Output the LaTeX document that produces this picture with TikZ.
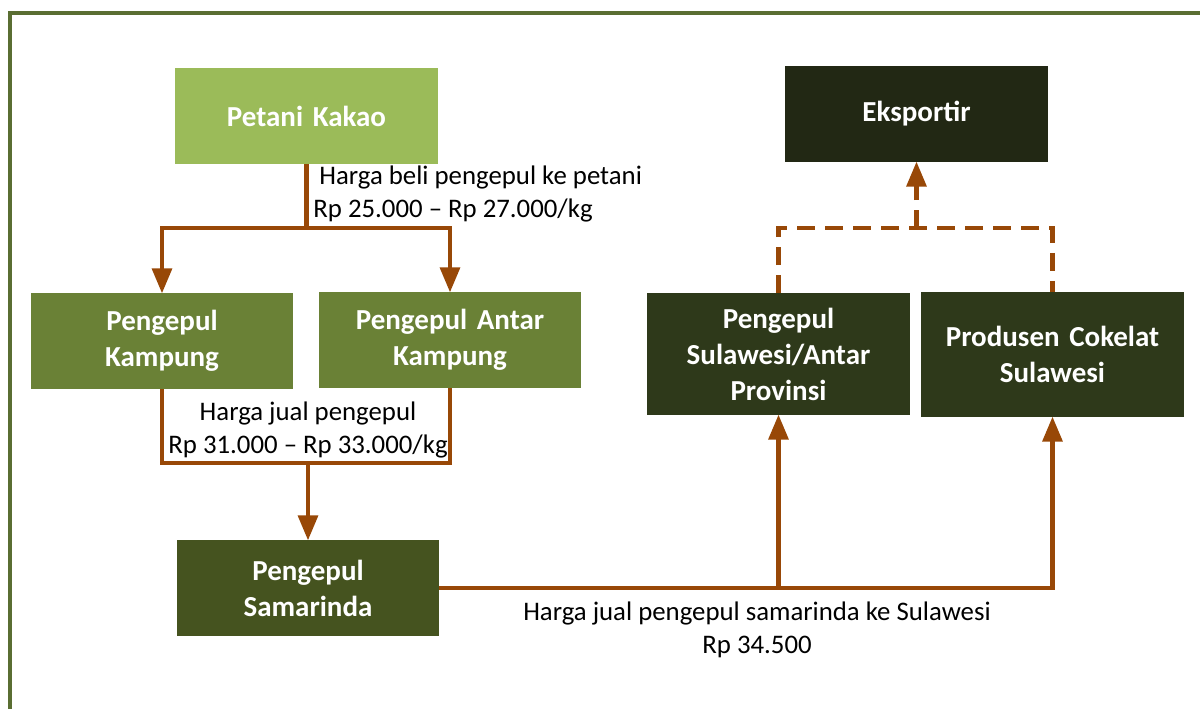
\documentclass[tikz,border=0pt]{standalone}
\usepackage{fontspec}
\setmainfont{Carlito}
\usepackage{xcolor}
\usepackage{tikz}
\usetikzlibrary{shapes,arrows}
\usetikzlibrary{positioning}
\definecolor{kakaogreen}{HTML}{9BBB59}
\definecolor{kampunggreen}{HTML}{6A8136}
\definecolor{samarindagreen}{HTML}{45531F}
\definecolor{sulawesigreen}{HTML}{2E391A}
\definecolor{eksportirgreen}{HTML}{222814}
\definecolor{arrowbrown}{HTML}{984807}
\definecolor{framegreen}{HTML}{5A6E32}
\tikzstyle{block} = [rectangle, text=white, font=\fontsize{16.5}{20.5}\selectfont\bfseries,
    text width=4.9cm, align=center, minimum width=5.26cm, minimum height=1.92cm,
    inner sep=0pt, outer sep=0pt]
\tikzstyle{price} = [font=\fontsize{15.25}{18.9}\selectfont, inner sep=0pt]
\tikzstyle{edge} = [draw, arrowbrown, line width=2.3pt]
\tikzstyle{line} = [edge, -triangle 45]
\tikzstyle{dashed edge} = [edge, dash pattern=on 0.36cm off 0.2cm]
\tikzstyle{dashed line} = [dashed edge, -triangle 45]
\begin{document}
\begin{tikzpicture}[x=0.02cm, y=-0.02cm]
  \useasboundingbox (0,0) rectangle (1200,709);
  % Frame
  \draw [framegreen, line width=2.5pt] (1200,13) -| (10,709);

  % Place nodes
  \node [block, fill=kakaogreen] (petani) at (306.5,116) {Petani Kakao};
  \node [block, fill=kampunggreen] (kampung) at (162,341) {Pengepul\\Kampung};
  \node [block, fill=kampunggreen] (antar) at (450,340) {Pengepul Antar\\Kampung};
  \node [block, fill=samarindagreen] (samarinda) at (308,588) {Pengepul\\Samarinda};
  \node [block, fill=sulawesigreen, minimum height=2.44cm] (sulawesi) at (778.5,354) {Pengepul\\Sulawesi/Antar\\Provinsi};
  \node [block, fill=sulawesigreen, minimum height=2.5cm] (produsen) at (1052.5,354.5) {Produsen Cokelat\\Sulawesi};
  \node [block, fill=eksportirgreen] (eksportir) at (916.5,114) {Eksportir};

  % Junction points
  \coordinate (split1) at (306.5,228);
  \coordinate (merge1) at (308,463);
  \coordinate (split2) at (778.5,588);
  \coordinate (split3) at (916.5,228);

  % Draw edges
  \path [edge] (petani) -- (split1);
  \path [line] (split1) -| (kampung);
  \path [line] (split1) -| (antar);
  \path [edge] (kampung) |- (merge1);
  \path [edge] (antar) |- (merge1);
  \path [line] (merge1) -- (samarinda);
  \path [edge] (samarinda) -- (split2);
  \path [line] (split2) -- (sulawesi);
  \path [line] (samarinda) -| (produsen);
  \path [dashed edge] (sulawesi) |- (split3) -| (produsen);
  \path [dashed line] (split3) -- (eksportir);

  % Price labels
  \node [price, anchor=west, align=left] (beli) at (313,194) {\ Harga beli pengepul ke petani\\Rp 25.000 -- Rp 27.000/kg};
  \node [price, align=center] (jual) at (308,430) {Harga jual pengepul\\Rp 31.000 -- Rp 33.000/kg};
  \node [price, align=center] (jualsulawesi) at (757,630) {Harga jual pengepul samarinda ke Sulawesi\\Rp 34.500};
\end{tikzpicture}
\end{document}
